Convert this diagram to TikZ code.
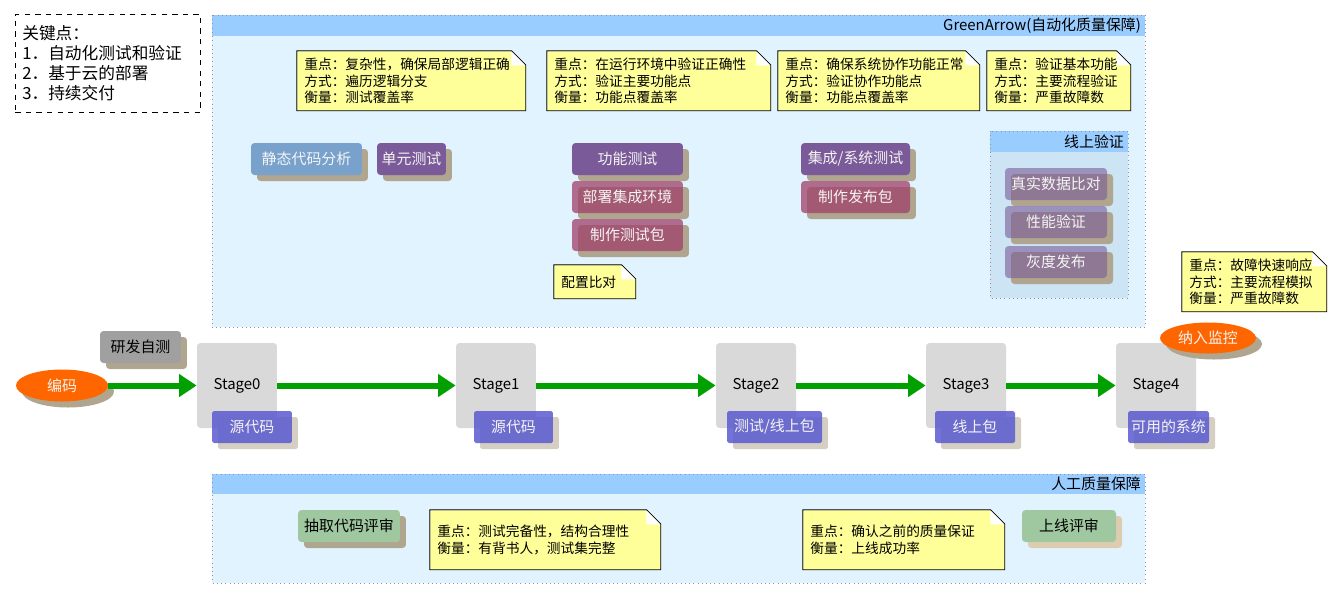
\documentclass[tikz,border=0pt]{standalone}
\usepackage{fontspec}
\setmainfont{Noto Sans CJK SC}
\usepackage{xcolor}
\usetikzlibrary{arrows.meta, calc, shadows, shapes.geometric}

\definecolor{panefill}{HTML}{E1F3FF}
\definecolor{headerblue}{HTML}{99CCFF}
\definecolor{onlinefill}{HTML}{CCE4F4}
\definecolor{framegray}{HTML}{8A96A8}
\definecolor{noteyellow}{HTML}{FFFF99}
\definecolor{staticblue}{HTML}{78A2CC}
\definecolor{taskpurple}{HTML}{7A5A98}
\definecolor{pkgpink}{HTML}{A0406A}
\definecolor{artifactblue}{HTML}{5A5AD0}
\definecolor{shadowtan}{HTML}{B0A58E}
\definecolor{shadowpale}{HTML}{D5CFC3}
\definecolor{shadowsand}{HTML}{DDCCB0}
\definecolor{stagegray}{HTML}{D9D9D9}
\definecolor{bubbleorange}{HTML}{FF6600}
\definecolor{flowgreen}{HTML}{00A000}
\definecolor{reviewgreen}{HTML}{A0C8A0}
\definecolor{selfgray}{HTML}{A0A0A0}
\definecolor{textwhite}{HTML}{F4F4F4}

\begin{document}
\begin{tikzpicture}[x=0.02cm, y=-0.02cm,
  every node/.style={font=\fontsize{8.5}{10}\selectfont},
  boxshadow/.style={drop shadow={shadow xshift=0.12cm, shadow yshift=-0.12cm, fill=#1, opacity=1}},
  boxshadow/.default=shadowtan,
  task/.style={boxshadow=#1, rounded corners=2pt, minimum height=0.64cm, inner sep=1pt, text=textwhite},
  task/.default=shadowtan,
  pinktask/.style={task, fill=pkgpink, fill opacity=0.75, text opacity=1},
  onlinetask/.style={task, fill=taskpurple, fill opacity=0.6, text opacity=1, minimum width=2.04cm},
  stagebox/.style={fill=stagegray, rounded corners=2pt, minimum width=1.6cm, minimum height=1.7cm},
  artifact/.style={boxshadow=shadowpale, fill=artifactblue, fill opacity=0.85, text opacity=1, rounded corners=1pt, minimum height=0.64cm, inner sep=1pt, text=textwhite},
  bubble/.style={ellipse, boxshadow, fill=bubbleorange, inner sep=0pt, text=textwhite},
  flow/.style={draw=flowgreen, line width=3.4pt, -{Triangle[length=10pt, width=12.5pt]}},
  panetitle/.style={anchor=east, inner sep=1pt, font=\fontsize{8.5}{10}\selectfont},
  memo/.style={anchor=north west, align=left, inner xsep=0.14cm, inner ysep=0pt, font=\fontsize{7.8}{9.4}\selectfont,
    path picture={
      \fill[noteyellow] (path picture bounding box.south west) -- (path picture bounding box.south east)
        -- ([yshift=-0.28cm]path picture bounding box.north east) -- ([xshift=-0.28cm]path picture bounding box.north east)
        -- (path picture bounding box.north west) -- cycle;
      \fill[white] ([xshift=-0.28cm]path picture bounding box.north east) -- ([xshift=-0.28cm, yshift=-0.28cm]path picture bounding box.north east)
        -- ([yshift=-0.28cm]path picture bounding box.north east) -- cycle;
    },
    append after command={\pgfextra{
      \draw[black, line width=0.6pt, line join=miter] (\tikzlastnode.south west) -- (\tikzlastnode.south east)
        -- ([yshift=-0.28cm]\tikzlastnode.north east) -- ([xshift=-0.28cm]\tikzlastnode.north east)
        -- (\tikzlastnode.north west) -- cycle
        ([xshift=-0.28cm]\tikzlastnode.north east) |- ([yshift=-0.28cm]\tikzlastnode.north east);
    }}}
]
  \useasboundingbox (0,0) rectangle (1342,600);

  % legend
  \node[draw, dashed, anchor=north west, minimum height=1.96cm, text width=3.42cm, inner xsep=0.14cm, align=left,
    font=\fontsize{9.5}{11.3}\selectfont] (keypoints) at (15,14) {关键点：\\1．自动化测试和验证\\2．基于云的部署\\3．持续交付};

  % automated quality pane
  \fill[panefill] (212,15) rectangle (1145,327);
  \fill[headerblue] (212,15) rectangle (1145,36);
  \draw[framegray, dotted] (212,15) rectangle (1145,327);
  \node[panetitle] (autotitle) at (1143,25.5) {GreenArrow(自动化质量保障)};

  \node[memo, text width=4.28cm, minimum height=1.18cm] (unitmemo) at (297,51) {重点：复杂性，确保局部逻辑正确\\方式：遍历逻辑分支\\衡量：测试覆盖率};
  \node[memo, text width=4.18cm, minimum height=1.18cm] (funcmemo) at (547,51) {重点：在运行环境中验证正确性\\方式：验证主要功能点\\衡量：功能点覆盖率};
  \node[memo, text width=3.74cm, minimum height=1.18cm] (sysmemo) at (778,51) {重点：确保系统协作功能正常\\方式：验证协作功能点\\衡量：功能点覆盖率};
  \node[memo, text width=2.58cm, minimum height=1.18cm] (onlinememo) at (987,51) {重点：验证基本功能\\方式：主要流程验证\\衡量：严重故障数};

  \node[task, fill=staticblue, minimum width=2.22cm] (staticscan) at (306.5,159) {静态代码分析};
  \node[task, fill=taskpurple, minimum width=1.38cm] (unittest) at (411.5,159) {单元测试};
  \node[task, fill=taskpurple, minimum width=2.22cm] (functest) at (627.5,159) {功能测试};
  \node[pinktask, minimum width=2.22cm] (deployenv) at (627.5,197) {部署集成环境};
  \node[pinktask, minimum width=2.22cm] (testpkg) at (627.5,235) {制作测试包};
  \node[memo, text width=1.34cm, minimum height=0.66cm] (diffmemo) at (554,265) {配置比对};
  \node[task, fill=taskpurple, minimum width=2.18cm] (systest) at (855.5,159) {集成/系统测试};
  \node[pinktask, minimum width=2.18cm] (releasepkg) at (855.5,197) {制作发布包};

  % online verification group
  \fill[onlinefill] (990,131) rectangle (1128,298);
  \fill[headerblue] (990,131) rectangle (1128,152);
  \draw[framegray, dotted] (990,131) rectangle (1128,298);
  \node[panetitle] (onlinetitle) at (1126,141.5) {线上验证};
  \node[onlinetask] (realdata) at (1056,184) {真实数据比对};
  \node[onlinetask] (perfcheck) at (1056,222) {性能验证};
  \node[onlinetask] (grayrelease) at (1056,262) {灰度发布};

  \node[memo, text width=2.6cm, minimum height=1.18cm] (monitormemo) at (1182,252) {重点：故障快速响应\\方式：主要流程模拟\\衡量：严重故障数};

  % main line
  \node[bubble, minimum width=1.84cm, minimum height=0.64cm] (coding) at (62,385.5) {编码};
  \node[task, fill=selfgray, text=black, minimum width=1.62cm] (selftest) at (140.5,347) {研发自测};
  \node[stagebox] (stage0) at (237,385.5) {Stage0};
  \node[stagebox] (stage1) at (496,385.5) {Stage1};
  \node[stagebox] (stage2) at (756,385.5) {Stage2};
  \node[stagebox] (stage3) at (966,385.5) {Stage3};
  \node[stagebox] (stage4) at (1156,385.5) {Stage4};
  \node[artifact, minimum width=1.6cm] (src0) at (252,427) {源代码};
  \node[artifact, minimum width=1.58cm] (src1) at (513.5,427) {源代码};
  \node[artifact, minimum width=1.9cm] (pkg2) at (774.5,427) {测试/线上包};
  \node[artifact, minimum width=1.6cm] (pkg3) at (975,427) {线上包};
  \node[artifact, minimum width=1.62cm] (system4) at (1168.5,427) {可用的系统};
  \node[bubble, minimum width=1.92cm, minimum height=0.62cm] (monitor) at (1208,338) {纳入监控};

  \draw[flow] (coding) -- (stage0);
  \foreach \a/\b in {0/1, 1/2, 2/3, 3/4}
    \draw[flow] (stage\a) -- (stage\b);

  % manual quality pane
  \fill[panefill] (212,474) rectangle (1145,583);
  \fill[headerblue] (212,474) rectangle (1145,494);
  \draw[framegray, dotted] (212,474) rectangle (1145,583);
  \node[panetitle] (manualtitle) at (1143,484) {人工质量保障};

  \node[task, fill=reviewgreen, text=black, minimum width=2.04cm] (codereview) at (349,526) {抽取代码评审};
  \node[memo, text width=4.32cm, minimum height=1.18cm] (reviewmemo) at (430,510) {重点：测试完备性，结构合理性\\衡量：有背书人，测试集完整};
  \node[memo, text width=3.74cm, minimum height=1.18cm] (launchmemo) at (803,510) {重点：确认之前的质量保证\\衡量：上线成功率};
  \node[task=shadowsand, fill=reviewgreen, text=black, minimum width=1.88cm] (launchreview) at (1069,526) {上线评审};
\end{tikzpicture}
\end{document}
